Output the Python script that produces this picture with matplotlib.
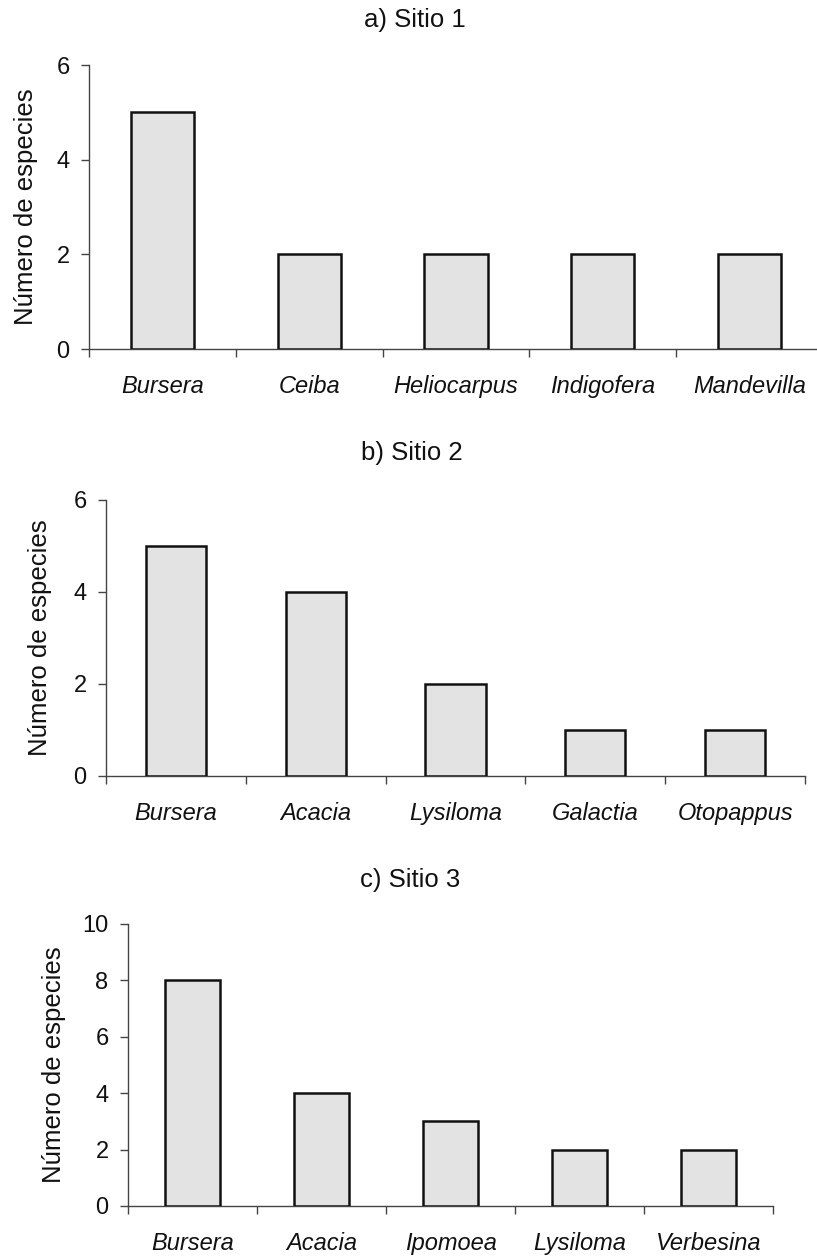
import numpy as np
import matplotlib.pyplot as plt

plt.rcParams['font.family'] = ['Liberation Sans', 'DejaVu Sans']

# generos con mas especies en cada sitio
generos_1 = ['Bursera', 'Ceiba', 'Heliocarpus', 'Indigofera', 'Mandevilla']
especies_1 = [5, 2, 2, 2, 2]

generos_2 = ['Bursera', 'Acacia', 'Lysiloma', 'Galactia', 'Otopappus']
especies_2 = [5, 4, 2, 1, 1]

generos_3 = ['Bursera', 'Acacia', 'Ipomoea', 'Lysiloma', 'Verbesina']
especies_3 = [8, 4, 3, 2, 2]

W, H = 817, 1257
fig = plt.figure(figsize=(W/100, H/100), dpi=100)
fig.patch.set_facecolor('white')

def px_axes(x0, x1, ytop, ybot):
    return fig.add_axes([x0/W, (H-ybot)/H, (x1-x0)/W, (ybot-ytop)/H])

def panel(ax, generos, vals, ymax, ystep, titulo, tx, ty, lx):
    n = len(generos)
    x = np.arange(n) + 0.5
    ax.bar(x, vals, width=0.43, color='#e3e3e3', edgecolor='#111111',
           linewidth=1.8, zorder=3)
    ax.set_xlim(0, n)
    ax.set_ylim(0, ymax)
    ax.set_yticks(np.arange(0, ymax + 1, ystep))
    ax.set_xticks(np.arange(0, n + 1))
    ax.set_xticklabels([])
    ax.set_xticks(x, minor=True)
    ax.set_xticklabels(generos, minor=True, style='italic', fontsize=17,
                       color='#111111')
    ax.tick_params(axis='x', which='major', direction='out', length=6,
                   width=1, color='#444444')
    ax.tick_params(axis='x', which='minor', length=0, pad=19)
    ax.tick_params(axis='y', direction='out', length=6, width=1,
                   color='#444444', labelsize=17, pad=8, labelcolor='#111111')
    for s in ['top', 'right']:
        ax.spines[s].set_visible(False)
    for s in ['left', 'bottom']:
        ax.spines[s].set_color('#444444')
        ax.spines[s].set_linewidth(1)
    ax.set_facecolor('none')
    fig.text(tx/W, 1 - ty/H, titulo, ha='center', va='center', fontsize=18.5,
             color='#111111')
    bb = ax.get_position()
    fig.text(lx/W, bb.y0 + bb.height/2, 'Número de especies', rotation=90,
             ha='center', va='center', fontsize=18.5, color='#111111')

ax1 = px_axes(89, 823, 65, 349)
panel(ax1, generos_1, especies_1, 6, 2, 'a) Sitio 1', 415, 20, 26)

ax2 = px_axes(106, 805, 500, 776)
panel(ax2, generos_2, especies_2, 6, 2, 'b) Sitio 2', 412, 453, 40)

ax3 = px_axes(128, 773, 924, 1206)
panel(ax3, generos_3, especies_3, 10, 2, 'c) Sitio 3', 410, 880, 54)

fig.savefig('out.png', dpi=100)
